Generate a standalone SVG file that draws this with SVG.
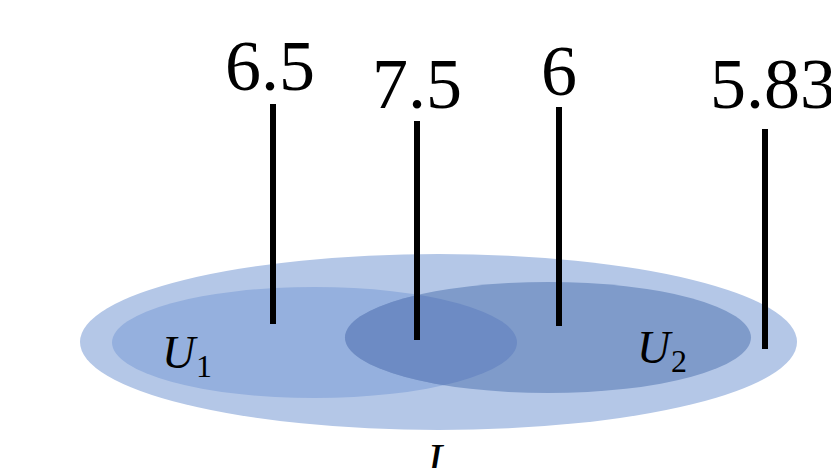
<svg xmlns="http://www.w3.org/2000/svg" width="831" height="468" viewBox="0 0 831 468">
<defs>
<style>
.num{font-family:"Liberation Serif","DejaVu Serif",serif;font-size:72px;fill:#000;text-anchor:middle}
.var{font-family:"Liberation Serif","DejaVu Serif",serif;font-style:italic;font-size:46px;fill:#000}
.sub{font-family:"Liberation Serif","DejaVu Serif",serif;font-size:32px;fill:#000}
.bar{stroke:#000;stroke-width:6;fill:none}
</style>
<clipPath id="c1"><ellipse cx="314.5" cy="342.5" rx="202.5" ry="55.5"/></clipPath>
</defs>
<rect width="831" height="468" fill="#fff"/>
<g id="I">
<ellipse cx="438.5" cy="342" rx="358.5" ry="88" fill="#b4c7e7"/>
<text class="var" x="427" y="476">I</text>
</g>
<g id="U1">
<ellipse cx="314.5" cy="342.5" rx="202.5" ry="55.5" fill="#95b0de"/>
<text class="var" x="162" y="368">U</text><text class="sub" x="196" y="377">1</text>
</g>
<g id="U2">
<ellipse cx="548" cy="337.5" rx="203" ry="55.5" fill="#7f9bca"/>
<ellipse cx="548" cy="337.5" rx="203" ry="55.5" fill="#6d8bc4" clip-path="url(#c1)"/>
<text class="var" x="637" y="363">U</text><text class="sub" x="671" y="372">2</text>
</g>
<g id="connectors">
<line class="bar" x1="273" y1="104" x2="273" y2="324"/>
<line class="bar" x1="417" y1="121" x2="417" y2="340"/>
<line class="bar" x1="559" y1="107" x2="559" y2="326"/>
<line class="bar" x1="765" y1="129" x2="765" y2="349"/>
</g>
<g id="v1"><text class="num" x="270" y="90">6.5</text></g>
<g id="v2"><text class="num" x="417" y="108">7.5</text></g>
<g id="v3"><text class="num" x="559" y="95">6</text></g>
<g id="v4"><text class="num" x="710" y="108" style="text-anchor:start">5.83</text></g>
</svg>
